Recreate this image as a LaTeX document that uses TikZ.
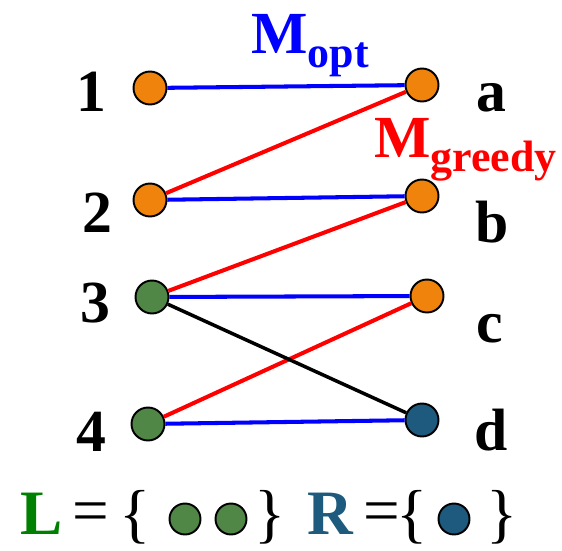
\documentclass[tikz,border=0pt]{standalone}
\usepackage{fontspec}
\setmainfont{Liberation Serif}
\definecolor{vorange}{RGB}{240,131,12}
\definecolor{vgreen}{RGB}{80,135,70}
\definecolor{vblue}{RGB}{30,90,125}
\definecolor{lgreen}{RGB}{0,128,0}
\newcommand{\lowsub}[1]{\raisebox{-8.5pt}{\fontsize{25}{25}\selectfont #1}}
\begin{document}
\begin{tikzpicture}[
		x=0.02cm, y=-0.02cm,
		every node/.style={inner sep=0pt},
		vtx/.style={circle, draw, line width=1.1pt, minimum size=0.66cm},
		dot/.style={circle, draw, line width=1.1pt, minimum size=0.62cm},
		lbl/.style={font=\fontsize{34}{34}\selectfont\bfseries},
		setlbl/.style={font=\fontsize{37}{37}\selectfont},
		optedge/.style={blue, line width=2.3pt},
		greedyedge/.style={red, line width=2.3pt},
		otheredge/.style={black, line width=2pt}
	]
		\useasboundingbox (0,0) rectangle (562,551);

		% left side
		\node[vtx, fill=vorange] (l1) at (150, 88) {};
		\node[vtx, fill=vorange] (l2) at (150, 200) {};
		\node[vtx, fill=vgreen] (l3) at (152, 297) {};
		\node[vtx, fill=vgreen] (l4) at (148, 424) {};
		\node[lbl] (n1) at (91, 92) {1};
		\node[lbl] (n2) at (97, 213) {2};
		\node[lbl] (n3) at (95, 303) {3};
		\node[lbl] (n4) at (91, 432) {4};

		% right side
		\node[vtx, fill=vorange] (ra) at (422, 85) {};
		\node[vtx, fill=vorange] (rb) at (422, 196) {};
		\node[vtx, fill=vorange] (rc) at (427, 296) {};
		\node[vtx, fill=vblue] (rd) at (422, 420) {};
		\node[lbl] (na) at (491, 98) {a};
		\node[lbl] (nb) at (492, 222) {b};
		\node[lbl] (nc) at (490, 329) {c};
		\node[lbl] (nd) at (491, 430) {d};

		% matchings
		\node[lbl, blue, anchor=base west] (mopt) at (251, 53) {M\lowsub{opt}};
		\node[lbl, red, anchor=base west] (mgreedy) at (374, 157) {M\lowsub{greedy}};

		\draw[optedge] (l1) -- (ra);
		\draw[optedge] (l2) -- (rb);
		\draw[optedge] (l3) -- (rc);
		\draw[optedge] (l4) -- (rd);
		\draw[greedyedge] (l2) -- (ra);
		\draw[greedyedge] (l3) -- (rb);
		\draw[greedyedge] (l4) -- (rc);
		\draw[otheredge] (l3) -- (rd);

		% sets
		\node[lgreen, font=\fontsize{36}{36}\selectfont\bfseries] (setL) at (42, 514) {L};
		\node[setlbl] (eqL) at (91, 518) {=};
		\node[setlbl] (lbL) at (135, 517) {\{};
		\node[dot, fill=vgreen] (dL1) at (185, 519) {};
		\node[dot, fill=vgreen] (dL2) at (231, 519) {};
		\node[setlbl] (rbL) at (270, 517) {\}};
		\node[vblue, font=\fontsize{36}{36}\selectfont\bfseries] (setR) at (330, 514) {R};
		\node[setlbl] (eqR) at (382, 518) {=};
		\node[setlbl] (lbR) at (412, 517) {\{};
		\node[dot, fill=vblue] (dR1) at (454, 519) {};
		\node[setlbl] (rbR) at (502, 517) {\}};
	\end{tikzpicture}
\end{document}
